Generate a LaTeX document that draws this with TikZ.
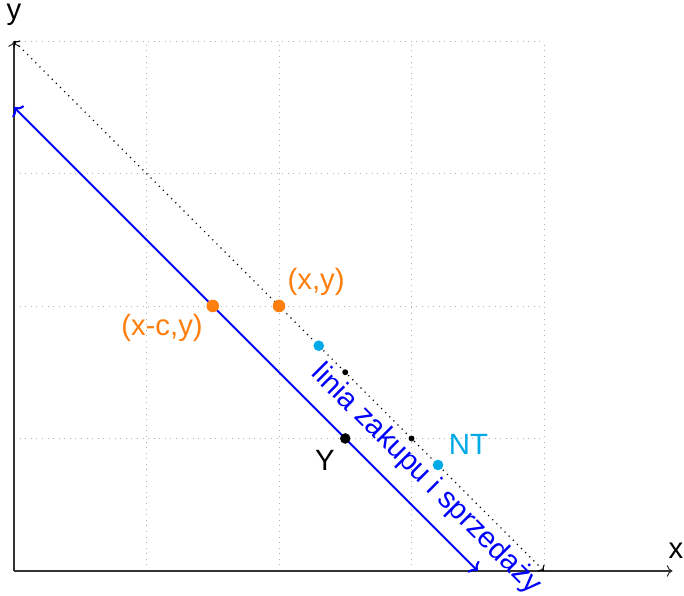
\documentclass[tikz,border=0pt]{standalone}
\usepackage{fontspec}
\setmainfont{Liberation Sans}
\usetikzlibrary{arrows.meta}
\definecolor{myorange}{RGB}{255,127,14}
\definecolor{mycyan}{RGB}{0,170,230}
\begin{document}
\begin{tikzpicture}[x=2cm,y=2cm,
  font=\fontsize{12.6}{14}\selectfont,
  dotbig/.style={circle,fill=myorange,inner sep=0pt,minimum size=0.19cm},
  dotcyan/.style={circle,fill=mycyan,inner sep=0pt,minimum size=0.16cm},
  dotblack/.style={circle,fill=black,inner sep=0pt,minimum size=0.16cm},
  dotsmall/.style={circle,fill=black,inner sep=0pt,minimum size=0.09cm},
  axisline/.style={black!80,line width=0.45pt,-{To[length=2.5pt,width=5pt]}},
  gridline/.style={gray!60,dotted,line width=0.4pt}]
\useasboundingbox (-0.1057,-0.1887) rectangle (5.0566,4.3094);
% grid
\draw[gridline,step=2cm] (0,0) grid (4,4);
% axes
\coordinate (O) at (0,0);
\coordinate (xe) at (4.97,0);
\coordinate (ye) at (0,4);
\draw[axisline] (O) -- (xe);
\draw[axisline] (O) -- (ye);
\node (xl) at (4.996,0.151) {x};
\node (yl) at (0,4.196) {y};
% dotted line x+y=4
\coordinate (d1) at (0,4);
\coordinate (d2) at (4,0);
\draw[black,dotted,line width=0.5pt,{To[length=2pt,width=4pt]}-{To[length=2pt,width=4pt]}] (d1) -- (d2);
% blue line x+y=3.5
\coordinate (b1) at (0,3.5);
\coordinate (b2) at (3.5,0);
\draw[blue,line width=0.9pt,{To[length=3pt,width=7pt]}-{To[length=3pt,width=7pt]}] (b1) -- (b2);
\node[blue,rotate=-45] (lab) at (3.11,0.69) {linia zakupu i sprzedaży};
% points
\node[dotbig] (xy) at (2,2) {};
\node[dotbig] (xcy) at (1.5,2) {};
\node[myorange] (xyl) at (2.28,2.18) {(x,y)};
\node[myorange] (xcyl) at (1.117,1.834) {(x-c,y)};
\node[dotcyan] (c1) at (2.3,1.7) {};
\node[dotcyan] (nt) at (3.2,0.8) {};
\node[mycyan] (ntl) at (3.43,0.958) {NT};
\node[dotblack] (Y) at (2.5,1) {};
\node (Yl) at (2.347,0.838) {Y};
\node[dotsmall] (s1) at (2.5,1.5) {};
\node[dotsmall] (s2) at (3,1) {};
\end{tikzpicture}
\end{document}
